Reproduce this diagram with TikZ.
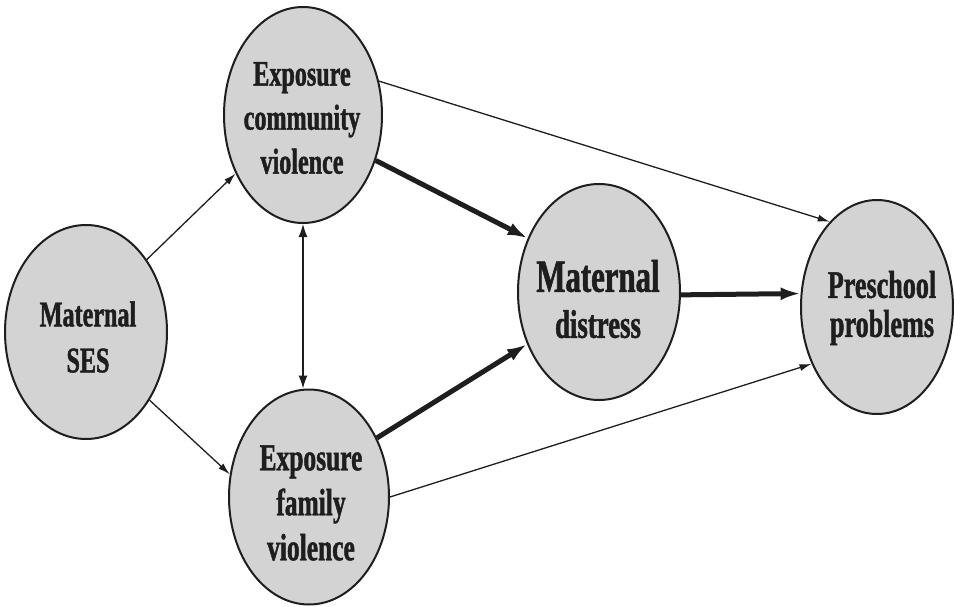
\documentclass[tikz,border=0pt]{standalone}
\usepackage{fontspec}
\setmainfont{Liberation Serif}[FakeStretch=0.67, BoldFeatures={FakeBold=1.2}]
\usetikzlibrary{arrows.meta,shapes.geometric}
\definecolor{nodefill}{RGB}{211,211,211}
\definecolor{ink}{RGB}{30,30,30}
\begin{document}
\begin{tikzpicture}[x=1pt,y=-1pt,
  var/.style={ellipse, draw=ink, line width=2pt, fill=nodefill, inner sep=0pt},
  lbl/.style={align=center, text=ink, inner sep=0pt},
  thinarrow/.style={draw=ink, line width=1.3pt, -{Latex[length=12pt,width=7pt]}},
  thickarrow/.style={draw=ink, line width=5pt, -{Latex[length=20pt,width=13pt]}},
  ]
\useasboundingbox (0,0) rectangle (954,607);

% variables
\node[var, minimum width=162pt, minimum height=214pt] (ses)  at (86,332)  {};
\node[var, minimum width=158pt, minimum height=216pt] (comm) at (303,115) {};
\node[var, minimum width=160pt, minimum height=215pt] (fam)  at (309,497) {};
\node[var, minimum width=162pt, minimum height=216pt] (dist) at (599,292) {};
\node[var, minimum width=152pt, minimum height=214pt] (pre)  at (877,307) {};

% labels
\node[lbl, font=\bfseries\fontsize{36}{46}\selectfont] (ses-t) at (88,337)
  {Maternal\\SES};
\node[lbl, font=\bfseries\fontsize{36}{44}\selectfont] (comm-t) at (302,118)
  {Exposure\\community\\violence};
\node[lbl, font=\bfseries\fontsize{38}{45}\selectfont] (fam-t) at (311,503)
  {Exposure\\family\\violence};
\node[lbl, font=\bfseries\fontsize{40}{46}\selectfont] (dist-t) at (598,299)
  {{\fontsize{46}{46}\selectfont Maternal}\\distress};
\node[lbl, font=\bfseries\fontsize{39}{39}\selectfont] (pre-t) at (882,308)
  {Preschool\\problems};

% paths
\draw[thinarrow] (ses.50) -- (comm.221);
\draw[thinarrow] (ses.-47) -- (fam.164);
\draw[thinarrow, {Latex[length=13pt,width=9pt]}-{Latex[length=13pt,width=9pt]}]
  (comm.south) -- (comm.south |- fam.north);
\draw[thickarrow] (comm.-32) -- (dist.143);
\draw[thickarrow] (fam.41) -- (dist.216);
\draw[thinarrow] (comm.24) -- (pre.119);
\draw[thickarrow] (dist.-2) -- (pre.170);
\draw[thinarrow] (fam.0) -- (pre.221);
\end{tikzpicture}
\end{document}
